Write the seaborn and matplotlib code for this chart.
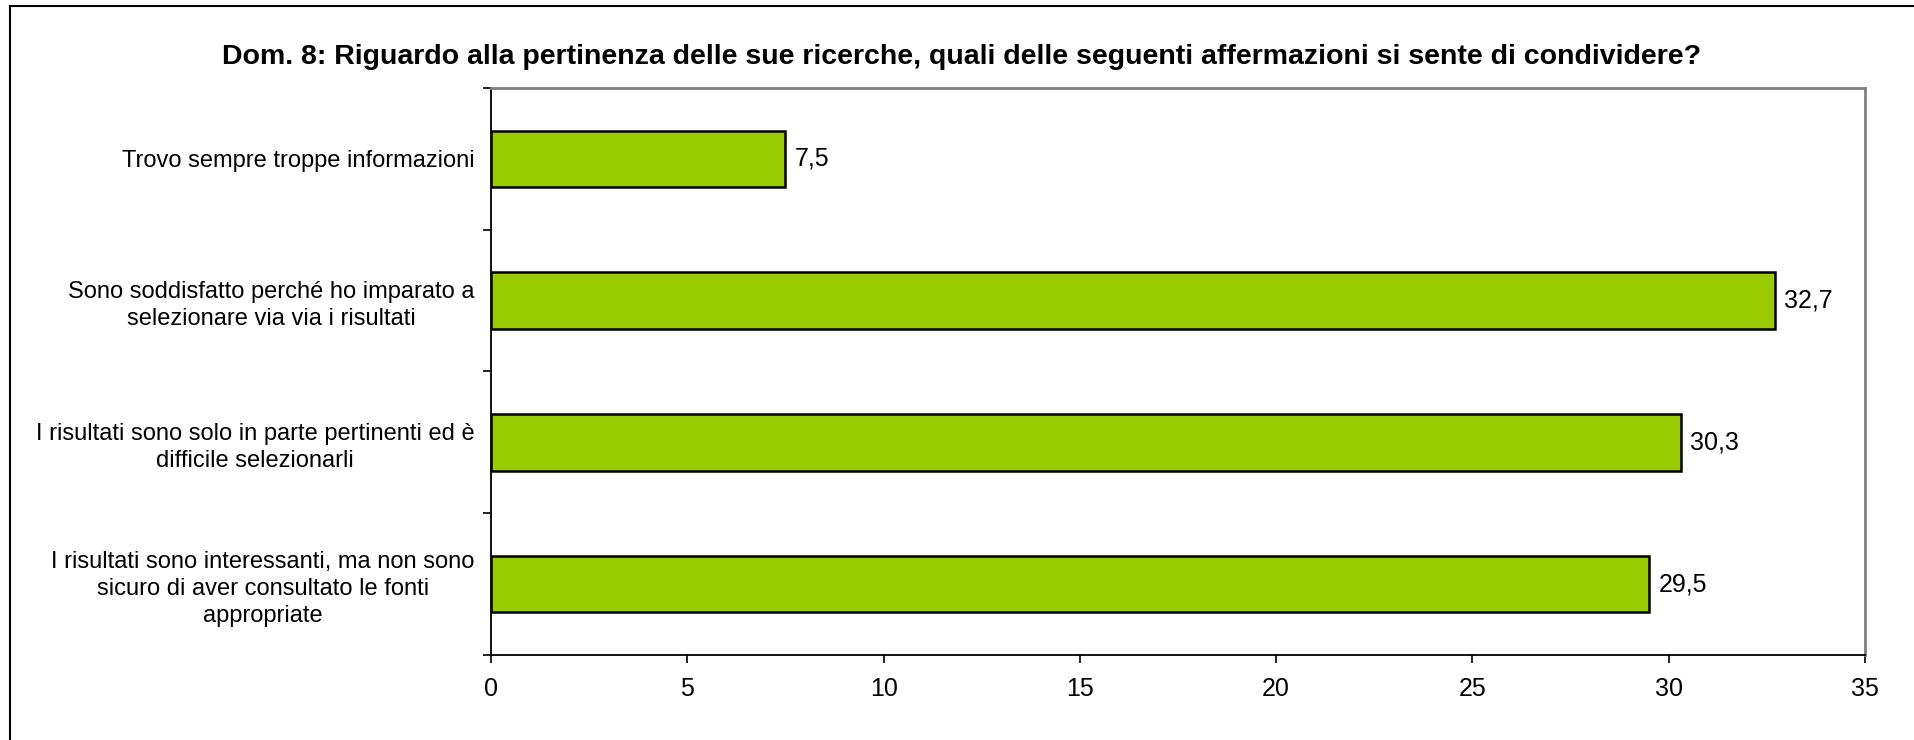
import matplotlib
matplotlib.use("Agg")
import matplotlib.pyplot as plt
import seaborn as sns
import pandas as pd
from matplotlib.patches import Rectangle
from matplotlib.ticker import FixedLocator

categories = [
    "Trovo sempre troppe informazioni",
    "Sono soddisfatto perché ho imparato a\nselezionare via via i risultati",
    "I risultati sono solo in parte pertinenti ed è\ndifficile selezionarli",
    "I risultati sono interessanti, ma non sono\nsicuro di aver consultato le fonti\nappropriate",
]
values = [7.5, 32.7, 30.3, 29.5]
title = "Dom. 8: Riguardo alla pertinenza delle sue ricerche, quali delle seguenti affermazioni si sente di condividere?"
x_ticks = [0, 5, 10, 15, 20, 25, 30, 35]

sns.set_theme(style="white")
plt.rcParams['font.family'] = ['Liberation Sans', 'DejaVu Sans']
plt.rcParams['text.color'] = 'black'
plt.rcParams['xtick.color'] = 'black'
plt.rcParams['ytick.color'] = 'black'

df = pd.DataFrame({"cat": categories, "val": values})

fig = plt.figure(figsize=(19.15, 7.40), dpi=100)
ax = fig.add_axes([0.2564, 0.1149, 0.7175, 0.7662])

sns.barplot(data=df, y="cat", x="val", orient="h", color="#99CC00",
            saturation=1, width=0.4, edgecolor="black", linewidth=1.8, ax=ax)

ax.set_xlim(0, 35)
ax.set_ylim(3.5, -0.5)
ax.set_xticks(x_ticks)
ax.set_xticklabels([str(t) for t in x_ticks], fontsize=18)
ax.set_xlabel("")
ax.set_ylabel("")

for lab in ax.get_yticklabels():
    lab.set_multialignment("center")
    lab.set_fontsize(17)
    lab.set_linespacing(1.3)

ax.tick_params(axis="y", which="major", length=0, pad=12)
ax.yaxis.set_minor_locator(FixedLocator([-0.5, 0.5, 1.5, 2.5, 3.5]))
ax.tick_params(axis="y", which="minor", left=True, length=6, width=1.2, color="black", direction="out")
ax.tick_params(axis="x", which="major", bottom=True, length=6, width=1.2, color="black", direction="out", pad=10)

for s in ["left", "bottom"]:
    ax.spines[s].set_color("black")
    ax.spines[s].set_linewidth(1.3)
for s in ["top", "right"]:
    ax.spines[s].set_color("#808080")
    ax.spines[s].set_linewidth(2)

for i, v in enumerate(values):
    ax.annotate(f"{v:.1f}".replace(".", ","), xy=(v, i), xytext=(7, 0),
                textcoords="offset points", va="center", ha="left", fontsize=18)

fig.text(0.502, 0.923, title, ha="center", va="center", fontsize=20.5, fontweight="bold")

fig.patches.append(Rectangle((10/1915, -0.1), 1.2, 1.1 - 6/740, transform=fig.transFigure,
                             fill=False, edgecolor="black", linewidth=1.5, figure=fig))

fig.savefig("out.png", dpi=100)
